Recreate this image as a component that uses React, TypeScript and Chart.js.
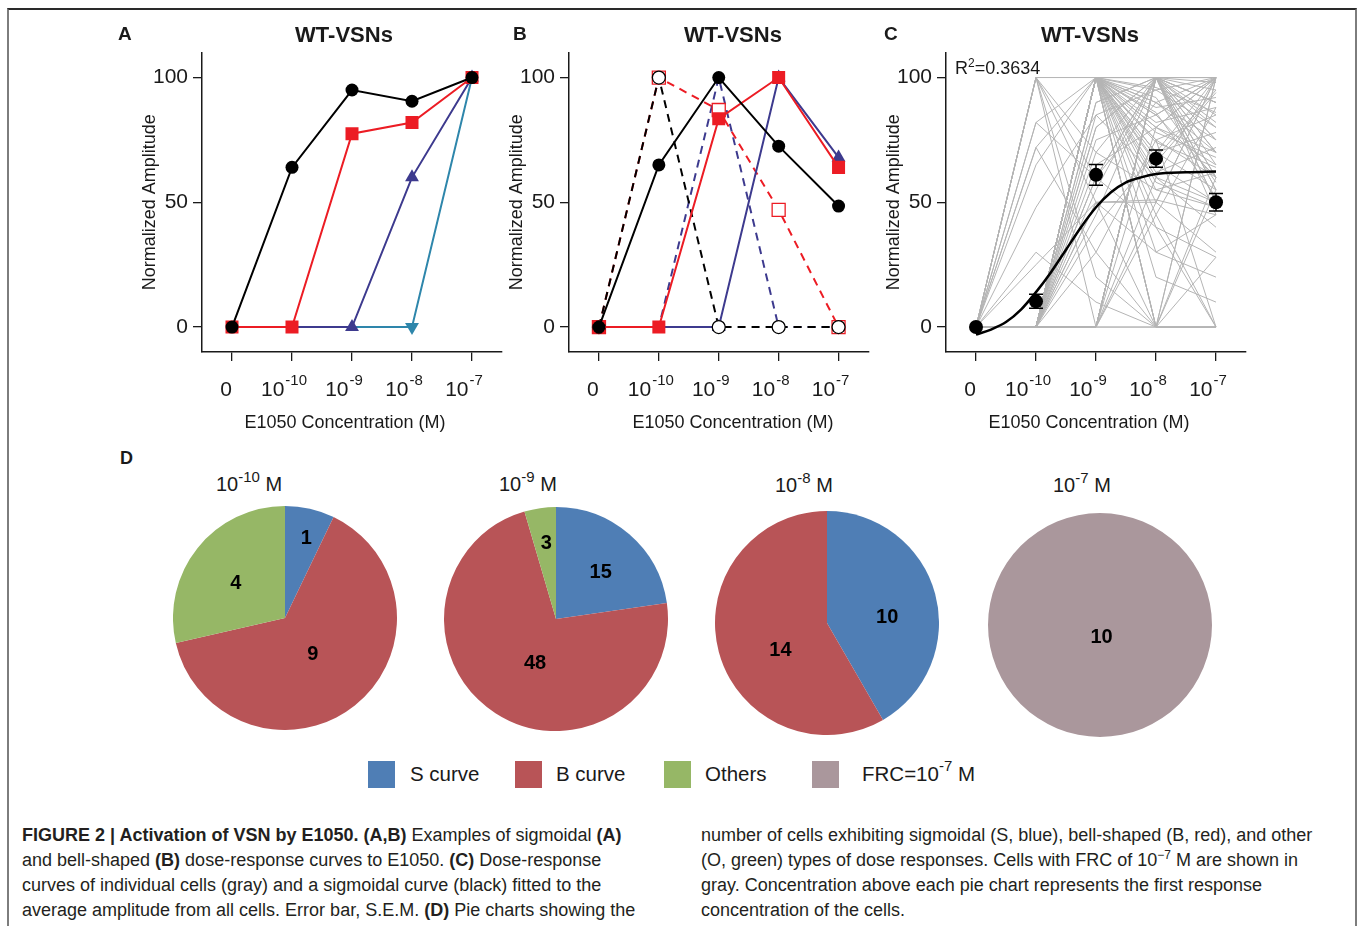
import React, { useEffect, useRef } from "react";
import { Chart, registerables } from "chart.js";
Chart.register(...registerables);

const FONT = '"Liberation Sans", Arial, Helvetica, sans-serif';
const INK = "#1a1a1a";

// ---- shared dose axis ----
const doses = [0, 1, 2, 3, 4];
const doseBase = ["0", "10", "10", "10", "10"];
const doseExp = ["", "-10", "-9", "-8", "-7"];
const ampTicks = [0, 50, 100];

// ---- Panel A (sigmoidal examples) ----
const sigBlack = [0, 64, 95, 90.5, 100];
const sigRed = [0, 0, 77.5, 82, 100];
const sigPurple = [0, 0, 0, 60, 100];
const sigTeal = [0, 0, 0, 0, 100];

// ---- Panel B (bell-shaped examples) ----
const bellBlack = [0, 65, 100, 72.5, 48.5];
const bellRed = [0, 0, 83.5, 100, 64];
const bellPurple = [0, 0, 0, 100, 68];
const bellBlackDash = [0, 100, 0, 0, 0];
const bellRedDash = [0, 100, 87, 47, 0];
const bellPurpleDash = [0, 0, 100, 0, 0];

// ---- Panel C (all cells + fit) ----
const meanAmp = [0, 10.3, 61, 67.5, 50];
const semAmp = [0, 2.8, 4.2, 3.5, 3.5];
const fitDose = [0, 0.25, 0.5, 0.75, 1, 1.25, 1.5, 1.75, 2, 2.25, 2.5, 2.75, 3, 3.5, 4];
const fitAmp = [-3, -1, 2, 7, 14, 22, 31, 40, 48, 54, 58, 60, 61.3, 62, 62.3];
const r2Value = "0.3634";
const cellTraces = [
  [0, 100, 50, 30, 20],
  [0, 100, 20, 0, 0],
  [0, 100, 70, 55, 48],
  [0, 100, 100, 80, 65],
  [0, 100, 0, 0, 0],
  [0, 82, 100, 90, 70],
  [0, 82, 60, 40, 28],
  [0, 72, 100, 100, 100],
  [0, 72, 30, 0, 0],
  [0, 65, 100, 75, 60],
  [0, 48, 85, 60, 50],
  [0, 30, 10, 0, 0],
  [0, 25, 50, 51, 45],
  [0, 100, 60, 100, 90],
  [0, 0, 100, 100, 100],
  [0, 0, 80, 100, 100],
  [0, 0, 60, 90, 100],
  [0, 0, 50, 50, 100],
  [0, 0, 75, 85, 100],
  [0, 0, 90, 100, 95],
  [0, 0, 40, 70, 100],
  [0, 0, 100, 100, 98],
  [0, 0, 65, 80, 100],
  [0, 0, 85, 95, 100],
  [0, 0, 100, 60, 40],
  [0, 0, 100, 80, 70],
  [0, 0, 100, 0, 0],
  [0, 0, 100, 90, 75],
  [0, 0, 100, 70, 55],
  [0, 0, 100, 50, 30],
  [0, 0, 100, 85, 60],
  [0, 0, 100, 40, 0],
  [0, 0, 100, 75, 85],
  [0, 0, 100, 95, 80],
  [0, 0, 100, 65, 50],
  [0, 0, 100, 55, 62],
  [0, 0, 100, 88, 92],
  [0, 0, 100, 30, 45],
  [0, 0, 100, 0, 55],
  [0, 0, 100, 78, 68],
  [0, 0, 100, 62, 72],
  [0, 0, 100, 92, 58],
  [0, 0, 100, 45, 0],
  [0, 0, 100, 82, 88],
  [0, 0, 100, 70, 78],
  [0, 0, 100, 58, 48],
  [0, 0, 100, 100, 65],
  [0, 0, 100, 100, 82],
  [0, 0, 100, 20, 10],
  [0, 0, 100, 96, 86],
  [0, 0, 100, 74, 64],
  [0, 0, 100, 86, 52],
  [0, 0, 100, 66, 94],
  [0, 0, 60, 100, 70],
  [0, 0, 80, 100, 60],
  [0, 0, 45, 100, 55],
  [0, 0, 70, 100, 90],
  [0, 0, 90, 100, 50],
  [0, 0, 55, 100, 75],
  [0, 0, 100, 0, 28],
  [0, 0, 100, 68, 95],
  [0, 0, 100, 85, 100],
  [0, 0, 100, 0, 100],
  [0, 0, 50, 0, 60],
  [0, 0, 30, 75, 0],
  [0, 0, 0, 100, 100],
  [0, 0, 0, 100, 80],
  [0, 0, 0, 100, 60],
  [0, 0, 0, 100, 50],
  [0, 0, 0, 100, 90],
  [0, 0, 0, 100, 70],
  [0, 0, 0, 80, 100],
  [0, 0, 0, 60, 100],
  [0, 0, 0, 100, 45],
  [0, 0, 0, 100, 75],
  [0, 0, 0, 50, 100],
  [0, 0, 0, 100, 85],
  [0, 0, 0, 100, 55],
  [0, 0, 0, 45, 88],
  [0, 0, 0, 0, 100],
];

// ---- Panel D (pies) ----
const pieConcExp = ["-10", "-9", "-8", "-7"];
const legendNames = ["S curve", "B curve", "Others", "FRC=10"];
const pieCategories = [
  ["S curve", "B curve", "Others"],
  ["S curve", "B curve", "Others"],
  ["S curve", "B curve"],
  ["FRC"],
];
const pieCounts = [
  [1, 9, 4],
  [15, 48, 3],
  [10, 14],
  [10],
];

// ---- styles (not data) ----
const COL = {
  red: "#EC1C24",
  purple: "#3D3A8E",
  teal: "#2E86AB",
  gray: "#B4B4B4",
  S: "#4F7EB5",
  B: "#B85457",
  O: "#96B766",
  F: "#AA979C",
};
const catColor: Record<string, string> = { "S curve": COL.S, "B curve": COL.B, Others: COL.O, FRC: COL.F };
const pieLabelPlace = [
  [[0.74, 2], [0.4, 0], [0.54, -3]],
  [[0.58, 2.5], [0.43, -7], [0.69, 1]],
  [[0.54, 9], [0.48, -15]],
  [[0.1, -8]],
];
const pieBoxes = [
  { left: 173, top: 506 },
  { left: 444, top: 507 },
  { left: 715, top: 511 },
  { left: 988, top: 513 },
];
const pieTitlePos = [
  { x: 216, b: 491 },
  { x: 499, b: 491 },
  { x: 775, b: 492 },
  { x: 1053, b: 492 },
];
const panelLeft = [202, 569, 946];

const pts = (arr: number[], xs: number[] = doses) => xs.map((x, i) => ({ x, y: arr[i] }));

const doseTickPlugin = {
  id: "doseTicks",
  afterDraw(chart: any) {
    const xs = chart.scales.x;
    const ctx = chart.ctx;
    ctx.save();
    ctx.fillStyle = INK;
    ctx.textBaseline = "alphabetic";
    const base = xs.top + 44;
    const bFont = `21px ${FONT}`;
    const eFont = `15px ${FONT}`;
    doses.forEach((v, i) => {
      const px = xs.getPixelForValue(v);
      ctx.font = bFont;
      if (!doseExp[i]) {
        ctx.textAlign = "center";
        ctx.fillText(doseBase[i], px - 6, base);
      } else {
        const wb = ctx.measureText(doseBase[i]).width;
        ctx.font = eFont;
        const we = ctx.measureText(doseExp[i]).width;
        const start = px - 8 - (wb + 1 + we) / 2;
        ctx.textAlign = "left";
        ctx.font = bFont;
        ctx.fillText(doseBase[i], start, base);
        ctx.font = eFont;
        ctx.fillText(doseExp[i], start + wb + 1, base - 11);
      }
    });
    ctx.restore();
  },
};

const errorBarPlugin = {
  id: "errorBars",
  afterDatasetsDraw(chart: any) {
    const { ctx } = chart;
    const x = chart.scales.x;
    const y = chart.scales.y;
    ctx.save();
    ctx.strokeStyle = "#000";
    ctx.lineWidth = 1.5;
    meanAmp.forEach((m, i) => {
      if (!semAmp[i]) return;
      const px = x.getPixelForValue(doses[i]);
      const t = y.getPixelForValue(m + semAmp[i]);
      const b = y.getPixelForValue(m - semAmp[i]);
      ctx.beginPath();
      ctx.moveTo(px, t);
      ctx.lineTo(px, b);
      ctx.moveTo(px - 7, t);
      ctx.lineTo(px + 7, t);
      ctx.moveTo(px - 7, b);
      ctx.lineTo(px + 7, b);
      ctx.stroke();
    });
    ctx.restore();
  },
};

function panelOptions() {
  const grid = { display: true, drawOnChartArea: false, drawTicks: true, tickLength: 9, color: INK, lineWidth: 1.3 };
  const border = { display: true, color: INK, width: 1.5 };
  return {
    responsive: false,
    animation: false,
    events: [],
    layout: { padding: { top: 15, right: 10, left: 0, bottom: 0 } },
    plugins: { legend: { display: false }, tooltip: { enabled: false }, title: { display: false } },
    scales: {
      x: {
        type: "linear",
        min: -0.5,
        max: 4.5,
        afterBuildTicks: (s: any) => {
          s.ticks = doses.map((v) => ({ value: v }));
        },
        afterFit: (s: any) => {
          s.height = 80;
        },
        ticks: { display: false },
        grid,
        border,
      },
      y: {
        type: "linear",
        min: -10,
        max: 110,
        afterBuildTicks: (s: any) => {
          s.ticks = ampTicks.map((v) => ({ value: v }));
        },
        afterFit: (s: any) => {
          s.width = 90;
        },
        ticks: { font: { family: FONT, size: 21 }, color: INK, padding: 5 },
        grid,
        border,
        title: {
          display: true,
          text: "Normalized Amplitude",
          font: { family: FONT, size: 18 },
          color: INK,
          padding: { top: 27, bottom: 0 },
        },
      },
    },
  };
}

function LinePanel({ left, datasets, plugins }: { left: number; datasets: any[]; plugins: any[] }) {
  const ref = useRef<HTMLCanvasElement>(null);
  useEffect(() => {
    const chart = new Chart(ref.current as HTMLCanvasElement, {
      type: "line",
      data: { datasets },
      options: panelOptions() as any,
      plugins,
    } as any);
    return () => chart.destroy();
  }, []);
  return (
    <canvas
      ref={ref}
      width={400}
      height={397}
      style={{ position: "absolute", left: left - 90, top: 35, width: 400, height: 397 }}
    />
  );
}

const pieLabelPlugin = {
  id: "pieLabels",
  afterDatasetsDraw(chart: any, _a: any, opts: any) {
    const meta = chart.getDatasetMeta(0);
    const ctx = chart.ctx;
    const place = opts.place as number[][];
    const values = chart.data.datasets[0].data as number[];
    ctx.save();
    ctx.fillStyle = "#000";
    ctx.font = `bold 20px ${FONT}`;
    ctx.textAlign = "center";
    ctx.textBaseline = "middle";
    meta.data.forEach((arc: any, i: number) => {
      const p = arc.getProps(["x", "y", "startAngle", "endAngle", "outerRadius"], true);
      const mid = (p.startAngle + p.endAngle) / 2 + (place[i][1] * Math.PI) / 180;
      const r = p.outerRadius * place[i][0];
      ctx.fillText(String(values[i]), p.x + Math.cos(mid) * r, p.y + Math.sin(mid) * r + 1);
    });
    ctx.restore();
  },
};

function PiePanel({ idx }: { idx: number }) {
  const ref = useRef<HTMLCanvasElement>(null);
  useEffect(() => {
    const chart = new Chart(ref.current as HTMLCanvasElement, {
      type: "pie",
      data: {
        labels: pieCategories[idx],
        datasets: [
          {
            data: pieCounts[idx],
            backgroundColor: pieCategories[idx].map((c) => catColor[c]),
            borderWidth: 0,
            hoverOffset: 0,
            offset: 0,
          },
        ],
      },
      options: {
        responsive: false,
        animation: false,
        events: [],
        layout: { padding: 0 },
        plugins: {
          legend: { display: false },
          tooltip: { enabled: false },
          pieLabels: { place: pieLabelPlace[idx] },
        },
      } as any,
      plugins: [pieLabelPlugin],
    } as any);
    return () => chart.destroy();
  }, []);
  const b = pieBoxes[idx];
  return (
    <canvas
      ref={ref}
      width={224}
      height={224}
      style={{ position: "absolute", left: b.left, top: b.top, width: 224, height: 224 }}
    />
  );
}

function Txt({
  x,
  b,
  size,
  bold,
  center,
  color = INK,
  children,
}: {
  x: number;
  b: number;
  size: number;
  bold?: boolean;
  center?: boolean;
  color?: string;
  children: any;
}) {
  const style: any = {
    position: "absolute",
    left: x,
    top: b - 0.8465 * size,
    fontSize: size,
    lineHeight: `${size}px`,
    fontFamily: FONT,
    fontWeight: bold ? 700 : 400,
    color,
    whiteSpace: "nowrap",
  };
  if (center) style.transform = "translateX(-50%)";
  return <div style={style}>{children}</div>;
}

const Sup = ({ size, rise, children }: { size: number; rise: number; children: any }) => (
  <span style={{ fontSize: size, position: "relative", top: -rise }}>{children}</span>
);
const B = ({ children }: { children: any }) => <span style={{ fontWeight: 700 }}>{children}</span>;

export default function App() {
  const panelA = [
    { data: pts(sigBlack), borderColor: "#000", backgroundColor: "#000", borderWidth: 2, pointStyle: "circle", pointRadius: 6.5, pointBorderWidth: 0 },
    { data: pts(sigRed), borderColor: COL.red, backgroundColor: COL.red, borderWidth: 2, pointStyle: "rect", pointRadius: 9.2, pointBorderWidth: 0 },
    { data: pts(sigPurple), borderColor: COL.purple, backgroundColor: COL.purple, borderWidth: 2, pointStyle: "triangle", pointRadius: [0, 0, 8, 8, 8], pointBorderWidth: 0 },
    { data: pts(sigTeal), borderColor: COL.teal, backgroundColor: COL.teal, borderWidth: 2, pointStyle: "triangle", pointRotation: 180, pointRadius: [0, 0, 0, 8, 0], pointBorderWidth: 0 },
  ];
  const panelB = [
    { data: pts(bellBlack), borderColor: "#000", backgroundColor: "#000", borderWidth: 2, pointStyle: "circle", pointRadius: 6.5, pointBorderWidth: 0 },
    { data: pts(bellRed), borderColor: COL.red, backgroundColor: COL.red, borderWidth: 2, pointStyle: "rect", pointRadius: 9.2, pointBorderWidth: 0 },
    { data: pts(bellBlackDash), borderColor: "#000", backgroundColor: "#fff", borderWidth: 2, borderDash: [8, 6], pointStyle: "circle", pointRadius: 6.5, pointBorderWidth: 1.3, pointBorderColor: "#000" },
    { data: pts(bellPurple), borderColor: COL.purple, backgroundColor: COL.purple, borderWidth: 2, pointStyle: "triangle", pointRadius: [0, 0, 8, 8, 8], pointBorderWidth: 0 },
    { data: pts(bellRedDash), borderColor: COL.red, backgroundColor: "#fff", borderWidth: 2, borderDash: [8, 6], pointStyle: "rect", pointRadius: 9.2, pointBorderWidth: 1.3, pointBorderColor: COL.red },
    { data: pts(bellPurpleDash), borderColor: COL.purple, borderWidth: 2, borderDash: [8, 6], pointRadius: 0 },
  ];
  const panelC = [
    { data: pts(meanAmp), showLine: false, backgroundColor: "#000", borderColor: "#000", pointStyle: "circle", pointRadius: 7, pointBorderWidth: 0 },
    { data: pts(fitAmp, fitDose), borderColor: "#000", borderWidth: 2.5, pointRadius: 0, cubicInterpolationMode: "monotone" },
    ...cellTraces.map((c) => ({ data: pts(c), borderColor: COL.gray, borderWidth: 1, pointRadius: 0 })),
  ];

  const titles = [
    { letter: "A", lx: 118, tx: 344, ax: 345 },
    { letter: "B", lx: 513, tx: 733, ax: 733 },
    { letter: "C", lx: 884, tx: 1090, ax: 1089 },
  ];
  const legendPos = [
    { sq: 368, tx: 410 },
    { sq: 515, tx: 556 },
    { sq: 664, tx: 705 },
    { sq: 812, tx: 862 },
  ];
  const legendCols = [COL.S, COL.B, COL.O, COL.F];

  const capL = 22;
  const capR = 701;
  const capBase = [841, 866, 891, 916];
  const cap = 18;
  const capCol = "#231F20";

  return (
    <div style={{ position: "absolute", left: 0, top: 0, width: 1357, height: 926, background: "#fff", overflow: "hidden" }}>
      <div
        style={{
          position: "absolute",
          left: 7,
          top: 8,
          width: 1346,
          height: 940,
          borderTop: "2px solid #2a2a2a",
          borderLeft: "2px solid #7d7d7d",
          borderRight: "2px solid #7d7d7d",
        }}
      />
      <LinePanel left={panelLeft[0]} datasets={panelA} plugins={[doseTickPlugin]} />
      <LinePanel left={panelLeft[1]} datasets={panelB} plugins={[doseTickPlugin]} />
      <LinePanel left={panelLeft[2]} datasets={panelC} plugins={[doseTickPlugin, errorBarPlugin]} />
      {titles.map((t) => (
        <React.Fragment key={t.letter}>
          <Txt x={t.lx} b={40.5} size={19} bold>
            {t.letter}
          </Txt>
          <Txt x={t.tx} b={43} size={22} bold center>
            WT-VSNs
          </Txt>
          <Txt x={t.ax} b={428} size={18} center>
            E1050 Concentration (M)
          </Txt>
        </React.Fragment>
      ))}
      <Txt x={955} b={74} size={18}>
        R<Sup size={12} rise={7}>2</Sup>={r2Value}
      </Txt>

      <Txt x={120} b={464} size={18} bold>
        D
      </Txt>
      {pieConcExp.map((e, i) => (
        <Txt key={e} x={pieTitlePos[i].x} b={pieTitlePos[i].b} size={20}>
          10<Sup size={15} rise={9}>{e}</Sup> M
        </Txt>
      ))}
      {[0, 1, 2, 3].map((i) => (
        <PiePanel key={i} idx={i} />
      ))}

      {legendNames.map((n, i) => (
        <React.Fragment key={n}>
          <div style={{ position: "absolute", left: legendPos[i].sq, top: 761, width: 27, height: 27, background: legendCols[i] }} />
          <Txt x={legendPos[i].tx} b={781} size={20.5}>
            {n}
            {i === 3 ? (
              <>
                <Sup size={15} rise={10}>-7</Sup> M
              </>
            ) : null}
          </Txt>
        </React.Fragment>
      ))}

      <Txt x={capL} b={capBase[0]} size={cap} color={capCol}>
        <B>FIGURE 2 | Activation of VSN by E1050. (A,B)</B> Examples of sigmoidal <B>(A)</B>
      </Txt>
      <Txt x={capL} b={capBase[1]} size={cap} color={capCol}>
        and bell-shaped <B>(B)</B> dose-response curves to E1050. <B>(C)</B> Dose-response
      </Txt>
      <Txt x={capL} b={capBase[2]} size={cap} color={capCol}>
        curves of individual cells (gray) and a sigmoidal curve (black) fitted to the
      </Txt>
      <Txt x={capL} b={capBase[3]} size={cap} color={capCol}>
        average amplitude from all cells. Error bar, S.E.M. <B>(D)</B> Pie charts showing the
      </Txt>
      <Txt x={capR} b={capBase[0]} size={cap} color={capCol}>
        number of cells exhibiting sigmoidal (S, blue), bell-shaped (B, red), and other
      </Txt>
      <Txt x={capR} b={capBase[1]} size={cap} color={capCol}>
        (O, green) types of dose responses. Cells with FRC of 10<Sup size={12} rise={7}>−7</Sup> M are shown in
      </Txt>
      <Txt x={capR} b={capBase[2]} size={cap} color={capCol}>
        gray. Concentration above each pie chart represents the first response
      </Txt>
      <Txt x={capR} b={capBase[3]} size={cap} color={capCol}>
        concentration of the cells.
      </Txt>
    </div>
  );
}
